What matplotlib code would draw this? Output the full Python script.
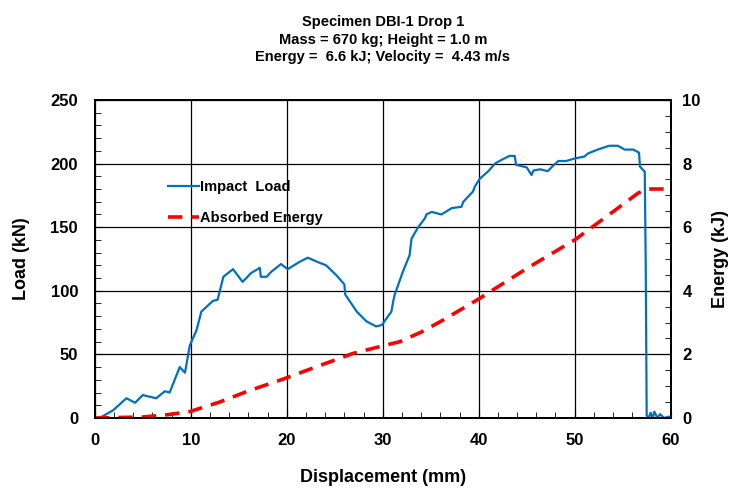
import numpy as np
import matplotlib
matplotlib.use("Agg")
import matplotlib.pyplot as plt
from matplotlib.ticker import MultipleLocator

plt.rcParams['font.family'] = ['Liberation Sans', 'DejaVu Sans']
plt.rcParams['font.weight'] = 'bold'

# Impact load vs displacement
disp_load = [0.5, 1.9, 3.3, 4.2, 5.0, 6.4, 7.3, 7.8, 8.85, 9.4, 9.9, 10.6, 11.1,
             12.3, 12.8, 13.4, 14.4, 15.4, 16.3, 17.2, 17.3, 17.9, 18.4, 19.4,
             20.1, 21.4, 22.2, 23.1, 24.1, 25.2, 26.0, 26.1, 27.3, 28.3, 29.3,
             29.9, 30.9, 31.1, 31.25, 32.1, 32.8, 33.0, 33.7, 34.4, 34.55, 35.1,
             36.1, 37.2, 38.2, 38.4, 39.4, 39.6, 40.1, 41.0, 41.7, 42.4, 43.2,
             43.75, 43.9, 45.0, 45.5, 45.7, 46.4, 47.2, 47.7, 48.3, 49.1, 50.0,
             51.0, 51.4, 52.4, 53.6, 54.5, 55.2, 56.1, 56.7, 56.8, 57.3, 57.4,
             57.5, 57.7, 57.9, 58.1, 58.3, 58.6, 58.9, 59.3, 59.8]
load = [0, 6, 15.5, 12, 18, 15.5, 21, 20, 40, 35.6, 57, 69, 83.6,
        92, 93, 111, 117, 107, 114, 118, 111, 111, 115, 121,
        117, 123, 126, 123, 120, 112, 105, 97, 83.6, 76, 72,
        73, 83.6, 92, 97, 115, 128, 141, 150, 157, 160, 162,
        160, 165, 166, 170, 178, 182, 188, 194, 200, 203, 206,
        206, 199, 197, 191, 194.5, 195.5, 194, 198, 202, 202, 204,
        205.5, 208, 211, 214, 214, 211, 211, 208.6, 197.6, 193.6, 120,
        2, 0, 4, 0, 5, 0, 3, 0, 1]

# Absorbed energy vs displacement
disp_energy = [0, 5.0, 7.5, 9.9, 13.0, 16.0, 19.6, 23.0, 26.9, 29.9, 31.8,
               34.0, 36.3, 40.1, 41.5, 45.0, 50.0, 53.3, 56.6, 57.5, 59.9]
energy = [0, 0.03, 0.1, 0.2, 0.5, 0.85, 1.22, 1.6, 2.03, 2.26, 2.4,
          2.7, 3.08, 3.76, 4.03, 4.7, 5.6, 6.33, 7.07, 7.2, 7.2]

fig = plt.figure(figsize=(7.29, 4.9), dpi=100)
ax = fig.add_axes([0.130, 0.147, 0.790, 0.649])
ax2 = ax.twinx()

l1, = ax.plot(disp_load, load, color='#0070C0', lw=1.6, label='Impact  Load')
l2, = ax2.plot(disp_energy, energy, color='#FF0000', lw=2.6,
               dashes=(4, 2.5), label='Absorbed Energy')

ax.set_xlim(0, 60)
ax.set_ylim(0, 250)
ax2.set_ylim(0, 10)
ax.xaxis.set_major_locator(MultipleLocator(10))
ax.xaxis.set_minor_locator(MultipleLocator(2))
ax.yaxis.set_major_locator(MultipleLocator(50))
ax.yaxis.set_minor_locator(MultipleLocator(10))
ax2.yaxis.set_major_locator(MultipleLocator(2))
ax2.yaxis.set_minor_locator(MultipleLocator(0.5))

ax.grid(True, which='major', color='black', lw=0.9)
ax.set_axisbelow(True)
for a in (ax, ax2):
    a.tick_params(which='both', direction='in', labelsize=12)
    a.tick_params(which='major', length=5)
    a.tick_params(which='minor', length=4)
    for s in a.spines.values():
        s.set_linewidth(1.4)
for lab in ax.get_xticklabels() + ax.get_yticklabels() + ax2.get_yticklabels():
    lab.set_fontweight('bold')
ax.tick_params(axis='x', pad=11)
ax.tick_params(axis='y', pad=12)
ax2.tick_params(axis='y', pad=8.5)

ax.set_xlabel('Displacement (mm)', fontsize=13, fontweight='bold', labelpad=15)
ax.set_ylabel('Load (kN)', fontsize=13, fontweight='bold', labelpad=15)
ax2.set_ylabel('Energy (kJ)', fontsize=13, fontweight='bold', labelpad=8)

ax.set_title('Specimen DBI-1 Drop 1\nMass = 670 kg; Height = 1.0 m\n'
             'Energy =  6.6 kJ; Velocity =  4.43 m/s',
             fontsize=10.5, fontweight='bold', pad=28, linespacing=1.3)

leg = ax.legend([l1, l2], ['Impact  Load', 'Absorbed Energy'],
                loc='upper left', bbox_to_anchor=(0.105, 0.79), frameon=False,
                prop={'size': 10.5, 'weight': 'bold'}, handlelength=2.1,
                handletextpad=0.1, labelspacing=1.2)

fig.savefig('out.png', dpi=100)
plt.close(fig)
